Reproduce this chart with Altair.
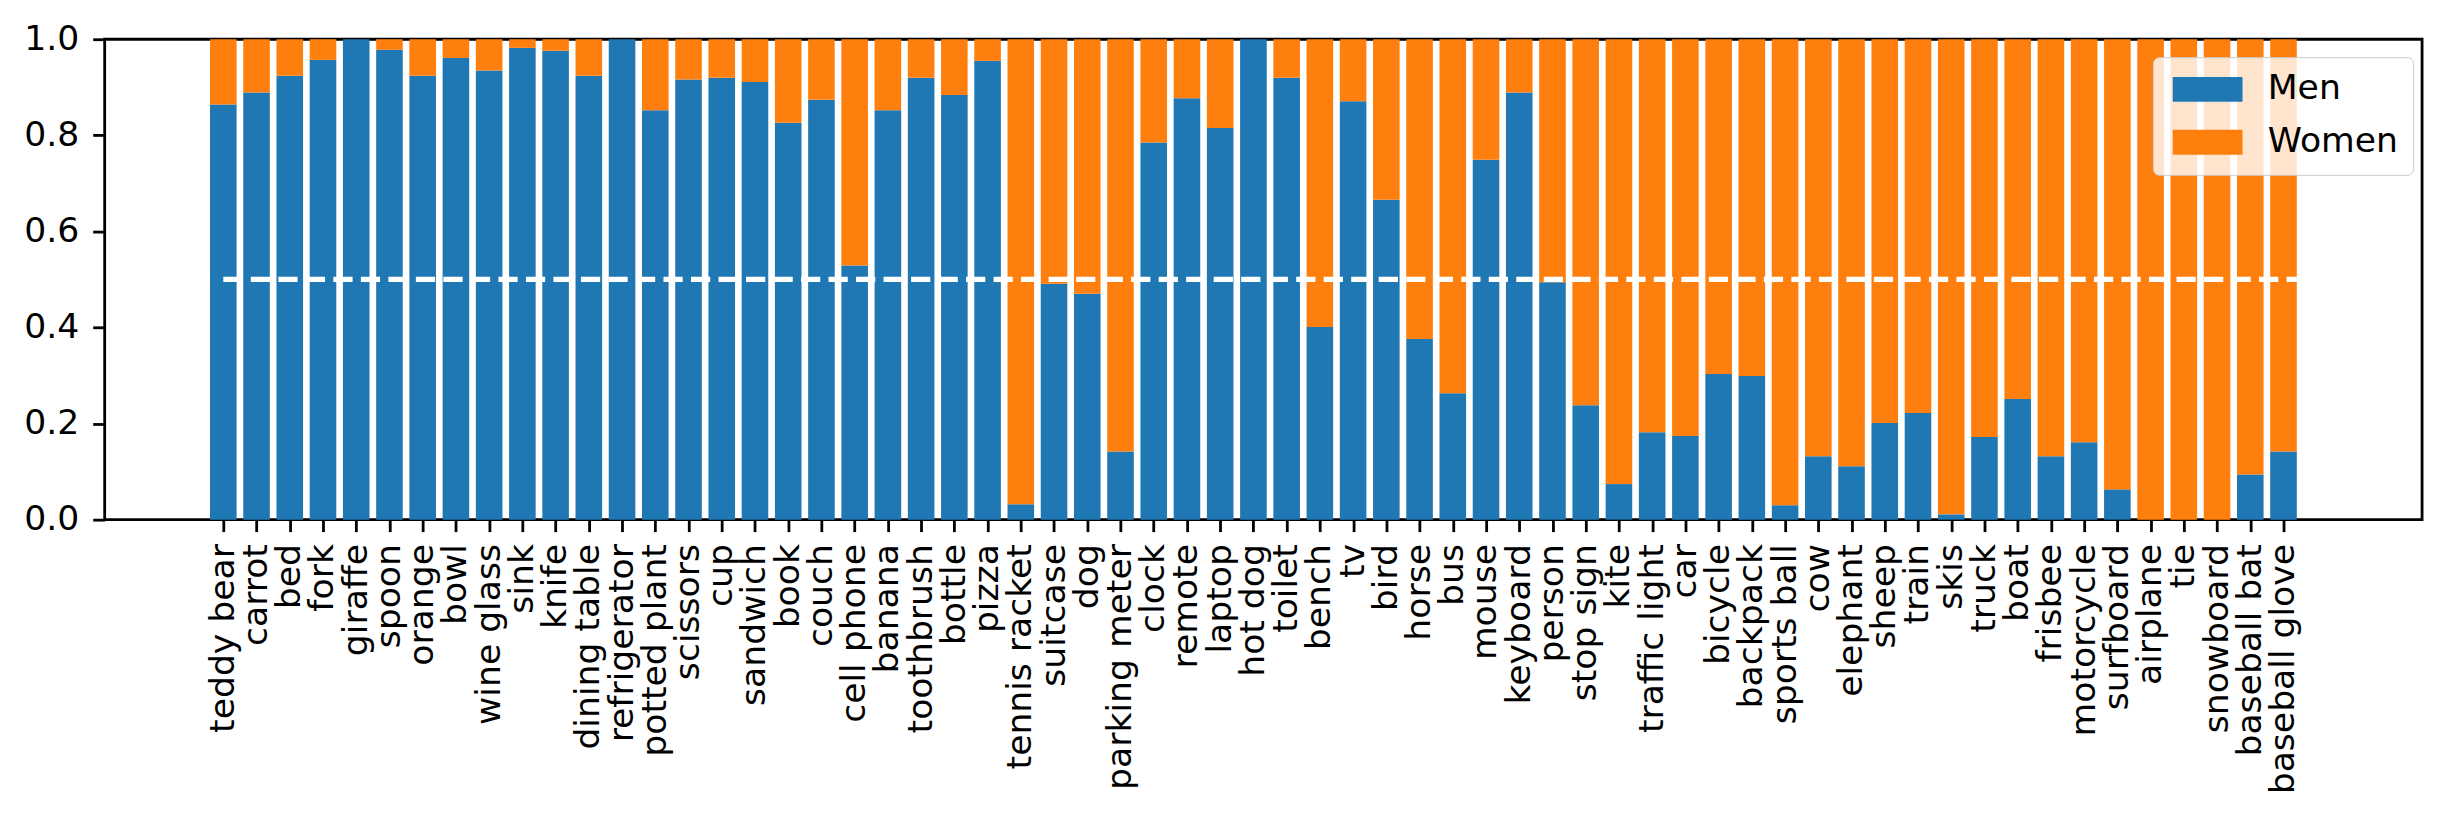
import json
import altair as alt
import pandas as pd

categories = [
    "teddy bear", "carrot", "bed", "fork", "giraffe", "spoon", "orange", "bowl",
    "wine glass", "sink", "knife", "dining table", "refrigerator", "potted plant",
    "scissors", "cup", "sandwich", "book", "couch", "cell phone", "banana",
    "toothbrush", "bottle", "pizza", "tennis racket", "suitcase", "dog",
    "parking meter", "clock", "remote", "laptop", "hot dog", "toilet", "bench",
    "tv", "bird", "horse", "bus", "mouse", "keyboard", "person", "stop sign",
    "kite", "traffic light", "car", "bicycle", "backpack", "sports ball", "cow",
    "elephant", "sheep", "train", "skis", "truck", "boat", "frisbee",
    "motorcycle", "surfboard", "airplane", "tie", "snowboard", "baseball bat",
    "baseball glove",
]

men_share = [
    0.864, 0.889, 0.924, 0.957, 1.000, 0.978, 0.924, 0.961,
    0.935, 0.982, 0.976, 0.924, 1.000, 0.852,
    0.916, 0.920, 0.911, 0.826, 0.874, 0.529, 0.852,
    0.920, 0.884, 0.955, 0.032, 0.491, 0.470,
    0.142, 0.785, 0.877, 0.815, 1.000, 0.920, 0.401,
    0.871, 0.666, 0.376, 0.263, 0.749, 0.889, 0.494, 0.238,
    0.074, 0.182, 0.174, 0.303, 0.299, 0.030, 0.132,
    0.111, 0.201, 0.222, 0.011, 0.172, 0.251, 0.132,
    0.161, 0.063, 0.000, 0.000, 0.000, 0.094,
    0.142,
]

series = ["Men", "Women"]
series_colors = ["#1f77b4", "#ff7f0e"]
y_ticks = [0.0, 0.2, 0.4, 0.6, 0.8, 1.0]
reference_level = 0.5
reference_span = [0, 63]
x_limits = [-3.57, 66.17]

rows = []
for i, (cat, m) in enumerate(zip(categories, men_share)):
    rows.append({"idx": i, "category": cat, "series": "Men", "lo": 0.0, "hi": m})
    rows.append({"idx": i, "category": cat, "series": "Women", "lo": m, "hi": 1.0})
df = pd.DataFrame(rows)

FONT = "DejaVu Sans"
FS = 34.7

x_scale = alt.Scale(domain=x_limits, nice=False, zero=False)
y_scale = alt.Scale(domain=[0, 1], nice=False, zero=False)

label_expr = json.dumps(categories) + "[datum.value]"

bars = (
    alt.Chart(df)
    .transform_calculate(x0="datum.idx - 0.4", x1="datum.idx + 0.4")
    .mark_bar(stroke=None)
    .encode(
        x=alt.X(
            "x0:Q",
            scale=x_scale,
            axis=alt.Axis(
                values=list(range(len(categories))),
                tickCount=len(categories) * 2,
                labelExpr=label_expr,
                labelAngle=270,
                labelOverlap=False,
                labelFlush=False,
                labelBound=False,
                labelFontSize=FS,
                labelFont=FONT,
                labelColor="black",
                labelPadding=12,
                tickSize=12,
                tickWidth=2.8,
                tickColor="black",
                domain=False,
                grid=False,
                title=None,
                labelLimit=0,
            ),
        ),
        x2="x1:Q",
        y=alt.Y(
            "lo:Q",
            scale=y_scale,
            axis=alt.Axis(
                values=y_ticks,
                format=".1f",
                labelFontSize=FS,
                labelFont=FONT,
                labelColor="black",
                labelPadding=14,
                tickSize=12,
                tickWidth=2.8,
                tickColor="black",
                domain=False,
                grid=False,
                title=None,
            ),
        ),
        y2="hi:Q",
        color=alt.Color(
            "series:N",
            scale=alt.Scale(domain=series, range=series_colors),
            legend=alt.Legend(
                orient="none",
                legendX=2055,
                legendY=18,
                title=None,
                symbolType="M-2.8,-1L2.8,-1L2.8,1L-2.8,1Z",
                symbolSize=625,
                symbolOffset=22.5,
                symbolStrokeWidth=0,
                symbolOpacity=1,
                labelOffset=43,
                labelFontSize=FS,
                labelFont=FONT,
                labelColor="black",
                rowPadding=17,
                padding=15,
                cornerRadius=6,
                fillColor="rgba(255,255,255,0.8)",
                strokeColor="#cccccc",
                labelLimit=0,
            ),
        ),
    )
)

ref = (
    alt.Chart(pd.DataFrame({"level": [reference_level]}))
    .mark_rule(color="white", strokeWidth=5.2, strokeDash=[19.3, 8.3])
    .encode(
        x=alt.datum(reference_span[0]),
        x2=alt.datum(reference_span[1]),
        y=alt.Y("level:Q"),
    )
)

chart = (
    alt.layer(bars, ref)
    .properties(
        width=2325,
        height=482,
        autosize=alt.AutoSizeParams(type="none"),
        padding={"left": 97, "top": 30, "right": 24, "bottom": 300},
    )
    .configure_view(stroke="black", strokeWidth=2.8)
)

chart.save("out.html", embed_options={"renderer": "svg", "actions": False})
